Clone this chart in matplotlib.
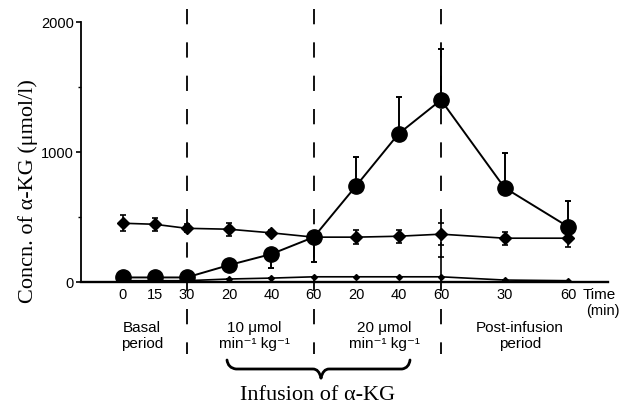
import matplotlib
matplotlib.use('Agg')
import matplotlib.pyplot as plt
from matplotlib.lines import Line2D
from matplotlib.path import Path
from matplotlib.patches import PathPatch
import matplotlib.transforms as mtransforms

# ---- data ----
time_pos = [0, 15, 30, 50, 70, 90, 110, 130, 150, 180, 210]
tick_labels = ['0', '15', '30', '20', '40', '60', '20', '40', '60', '30', '60']
large_vals = [35, 35, 35, 130, 215, 345, 740, 1140, 1400, 725, 425]
large_err_up = [0, 0, 0, 0, 0, 0, 225, 285, 395, 270, 195]
large_err_down = [0, 0, 0, 0, 108, 190, 0, 0, 0, 0, 0]
mid_vals = [452, 444, 413, 406, 378, 345, 345, 352, 368, 337, 337]
mid_err = [60, 50, 30, 50, 25, 30, 55, 50, 85, 50, 70]
small_vals = [10, 10, 10, 23, 30, 40, 40, 40, 40, 15, 10]
small_err_up = [0, 0, 0, 0, 0, 0, 0, 0, 150, 0, 0]
boundaries = [30, 90, 150]
period_labels = ['Basal\nperiod', '10 μmol\nmin⁻¹ kg⁻¹', '20 μmol\nmin⁻¹ kg⁻¹', 'Post-infusion\nperiod']

W, H = 621, 410
def fx(px):
    return px / W
def fy(py):
    return 1 - py / H

plt.rcParams['lines.scale_dashes'] = False
sans = ['Liberation Sans', 'DejaVu Sans']
serif = ['Liberation Serif', 'DejaVu Serif']

fig = plt.figure(figsize=(6.21, 4.10), dpi=100)
ax = fig.add_axes([fx(81), fy(283), fx(608) - fx(81), (283 - 23) / H])

ax.set_xlim(-19.8, 228.8)
ax.set_ylim(0, 2000)

# series
ax.plot(time_pos, small_vals, color='black', lw=1.2, marker='D', ms=3, zorder=3)
ax.errorbar(time_pos, small_vals, yerr=[[0]*len(small_vals), small_err_up], fmt='none',
            ecolor='black', elinewidth=1.2, capsize=2.5, capthick=1.2, zorder=3)
ax.plot(time_pos, mid_vals, color='black', lw=1.2, marker='D', ms=6.5, zorder=4)
ax.errorbar(time_pos, mid_vals, yerr=mid_err, fmt='none',
            ecolor='black', elinewidth=1.2, capsize=2.5, capthick=1.2, zorder=4)
ax.plot(time_pos, large_vals, color='black', lw=1.4, marker='o', ms=11, zorder=5)
ax.errorbar(time_pos, large_vals, yerr=[large_err_down, large_err_up], fmt='none',
            ecolor='black', elinewidth=1.4, capsize=2.5, capthick=1.4, zorder=5)

# spines
for s in ['top', 'right']:
    ax.spines[s].set_visible(False)
ax.spines['left'].set_linewidth(1.3)
ax.spines['bottom'].set_linewidth(1.7)

ax.set_yticks([0, 1000, 2000])
ax.set_yticklabels(['0', '1000', '2000'], family=sans, fontsize=10.5)
ax.set_yticks([500, 1500], minor=True)
ax.tick_params(axis='y', which='major', length=3.5, width=1.2, pad=1.5, direction='out')
ax.tick_params(axis='y', which='minor', length=2, width=1, direction='out')
ax.set_xticks(time_pos)
ax.set_xticklabels(tick_labels, family=sans, fontsize=10.5)
ax.tick_params(axis='x', length=0, pad=3.5)

# dashed boundaries
trans = mtransforms.blended_transform_factory(ax.transData, fig.transFigure)
for b in boundaries:
    ln = Line2D([b, b], [fy(10), fy(355)], transform=trans, color='black', lw=1.3,
                dashes=(11, 13), clip_on=False, zorder=2)
    fig.add_artist(ln)

# period labels
centers_px = [142, 254, 384, 520]
for cx, lab in zip(centers_px, period_labels):
    fig.text(fx(cx), fy(336), lab, ha='center', va='center', family=sans,
             fontsize=11, linespacing=1.2)

fig.text(fx(583), fy(295), 'Time', ha='left', va='center', family=sans, fontsize=11)
fig.text(fx(586), fy(311), '(min)', ha='left', va='center', family=sans, fontsize=10.5)

# brace
pts = [(227, 361), (228, 369), (236, 370), (313, 370), (319, 370), (321, 379), (321, 379),
       (323, 370), (329, 370), (402, 370), (409, 369), (410, 361)]
verts = [(fx(x), fy(y)) for x, y in pts]
codes = [Path.MOVETO, Path.CURVE3, Path.CURVE3, Path.LINETO, Path.CURVE3, Path.CURVE3,
         Path.MOVETO, Path.CURVE3, Path.CURVE3, Path.LINETO, Path.CURVE3, Path.CURVE3]
brace = PathPatch(Path(verts, codes), transform=fig.transFigure, fill=False,
                  lw=2.0, edgecolor='black', capstyle='round')
fig.add_artist(brace)

fig.text(fx(318), fy(396), 'Infusion of α-KG', ha='center', va='center',
         family=serif, fontsize=16)
fig.text(fx(28), fy(191), 'Concn. of α-KG (μmol/l)', ha='center', va='center',
         rotation=90, family=serif, fontsize=16)

fig.savefig('out.png', dpi=100)
